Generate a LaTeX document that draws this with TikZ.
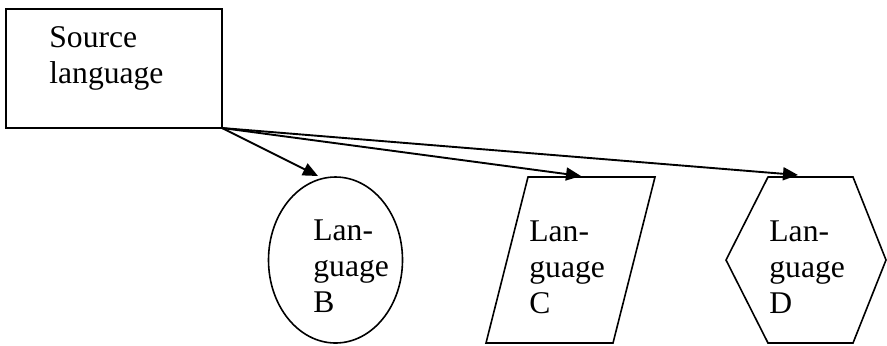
\documentclass[tikz,border=0pt]{standalone}
\usepackage{fontspec}
\setmainfont{Liberation Serif}
\usetikzlibrary{arrows.meta}
\tikzset{
  shapeline/.style={draw=black, line width=0.8pt},
  label text/.style={anchor=base west, inner sep=0pt, align=left,
    font=\fontsize{15.8}{17.8}\selectfont},
  link/.style={draw=black, line width=0.95pt,
    -{Triangle[length=7.5pt,width=6.5pt]}},
}
\begin{document}
\begin{tikzpicture}[x=0.5pt, y=-0.5pt]
\useasboundingbox (0,0) rectangle (887,345);

% source box (text anchored at the baseline of its last line)
\draw[shapeline] (6,9) rectangle (222,128);
\coordinate (src) at (222,128);
\node[label text] (srctext) at (49,83) {Source\\language};

% language B: ellipse
\draw[shapeline] (335.5,260) ellipse [x radius=67, y radius=83];
\node[label text] (btext) at (313,312) {Lan-\\guage\\B};
\coordinate (tipB) at (318,176);

% language C: parallelogram
\draw[shapeline] (528,177) -- (655,177) -- (613,343) -- (486,343) -- cycle;
\node[label text] (ctext) at (529,313) {Lan-\\guage\\C};
\coordinate (tipC) at (581,176);

% language D: hexagon
\draw[shapeline] (768,177) -- (853,177) -- (886,260) -- (853,343)
  -- (768,343) -- (726,260) -- cycle;
\node[label text] (dtext) at (769,313) {Lan-\\guage\\D};
\coordinate (tipD) at (798,175);

% translation arrows
\draw[link] (src) -- (tipB);
\draw[link] (src) -- (tipC);
\draw[link] (src) -- (tipD);
\end{tikzpicture}
\end{document}
